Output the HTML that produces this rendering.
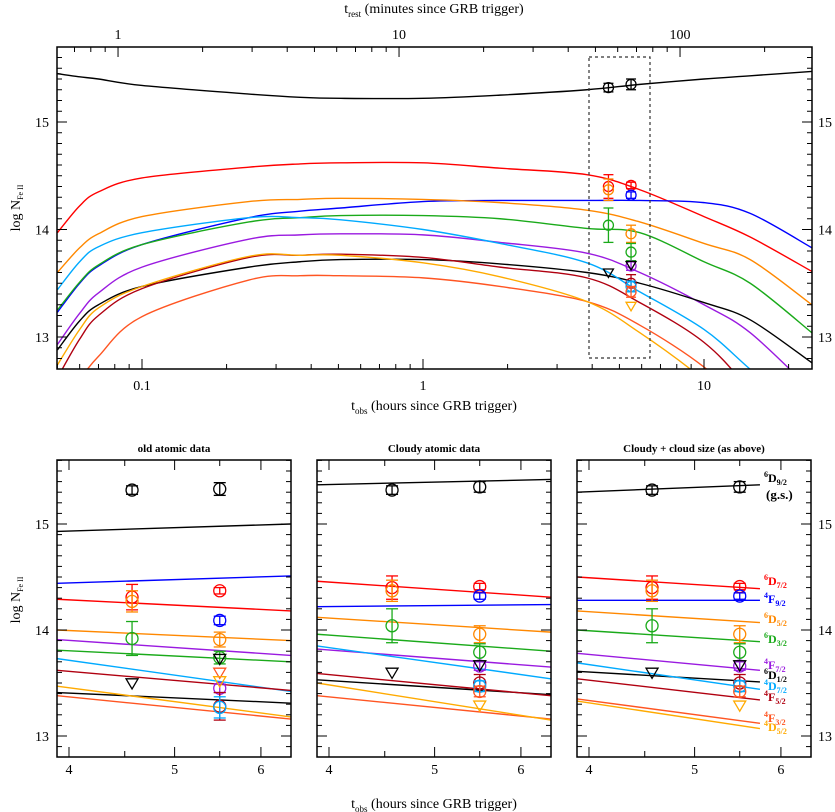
<!DOCTYPE html>
<html><head><meta charset="utf-8"><style>
body{margin:0;background:#fff}
svg{display:block;font-family:"Liberation Serif",serif}
</style></head><body>
<svg id="fig" width="835" height="812" viewBox="0 0 835 812" xmlns="http://www.w3.org/2000/svg">
<defs>
<clipPath id="ctop"><rect x="57" y="47" width="755" height="322"/></clipPath>
<clipPath id="cp0"><rect x="57" y="460" width="234" height="297"/></clipPath>
<clipPath id="cp1"><rect x="317" y="460" width="234" height="297"/></clipPath>
<clipPath id="cp2"><rect x="577" y="460" width="234" height="297"/></clipPath>
</defs>
<text x="434" y="13" text-anchor="middle" font-size="14">t<tspan font-size="9" dy="4">rest</tspan><tspan dy="-4"> (minutes since GRB trigger)</tspan></text>
<text x="434" y="410" text-anchor="middle" font-size="14">t<tspan font-size="9" dy="4">obs</tspan><tspan dy="-4"> (hours since GRB trigger)</tspan></text>
<text x="434" y="808" text-anchor="middle" font-size="14">t<tspan font-size="9" dy="4">obs</tspan><tspan dy="-4"> (hours since GRB trigger)</tspan></text>
<text transform="translate(20,208) rotate(-90)" text-anchor="middle" font-size="14">log N<tspan font-size="8" dy="3">Fe II</tspan></text>
<text transform="translate(20,600) rotate(-90)" text-anchor="middle" font-size="14">log N<tspan font-size="8" dy="3">Fe II</tspan></text>
<text x="174" y="452" text-anchor="middle" font-size="11" font-weight="bold">old atomic data</text>
<text x="434" y="452" text-anchor="middle" font-size="11" font-weight="bold">Cloudy atomic data</text>
<text x="694" y="452" text-anchor="middle" font-size="11" font-weight="bold">Cloudy + cloud size (as above)</text>
<g id="g"></g>
</svg>
<script>
// ---- data ----
var species = ["6D9/2","6D7/2","4F9/2","6D5/2","6D3/2","4F7/2","6D1/2","4D7/2","4F5/2","4F3/2","4D5/2"];
var colors = ["#000000","#ff0000","#0000ff","#ff8800","#1aaa1a","#9a1ae0","#000000","#00aaff","#b00010","#ff5522","#ffaa00"];
var topT = [0.05,0.06,0.07,0.1,0.24,0.365,0.51,1,1.88,3.83,5.91,10,14.6,24.2];
var top_6D92 = [15.45,15.42,15.40,15.34,15.26,15.23,15.22,15.22,15.25,15.30,15.35,15.40,15.43,15.47];
var top_6D72 = [13.97,14.22,14.35,14.48,14.58,14.61,14.62,14.62,14.57,14.51,14.37,14.12,13.93,13.61];
var top_4F92 = [13.23,13.50,13.66,13.86,14.11,14.17,14.20,14.26,14.27,14.27,14.27,14.25,14.15,13.83];
var top_6D52 = [13.60,13.83,13.96,14.12,14.26,14.28,14.29,14.28,14.25,14.18,14.07,13.87,13.72,13.30];
var top_6D32 = [13.25,13.51,13.67,13.86,14.07,14.11,14.13,14.13,14.10,14.01,13.97,13.70,13.50,13.04];
var top_4F72 = [12.93,13.22,13.41,13.65,13.91,13.95,13.96,13.95,13.88,13.78,13.60,13.30,13.04,12.5];
var top_6D12 = [12.88,13.15,13.30,13.47,13.65,13.70,13.72,13.72,13.68,13.60,13.50,13.32,13.16,12.76];
var top_4D72 = [13.44,13.70,13.84,13.97,14.11,14.11,14.09,14.00,13.87,13.69,13.42,13.07,12.70,12.2];
var top_4F52 = [12.62,12.98,13.20,13.45,13.74,13.76,13.77,13.74,13.65,13.55,13.32,12.95,12.5,11.8];
var top_4F32 = [12.3,12.60,12.82,13.19,13.53,13.57,13.57,13.55,13.47,13.33,13.11,12.72,12.3,11.7];
var top_4D52 = [12.74,13.07,13.27,13.47,13.75,13.76,13.76,13.69,13.56,13.33,13.04,12.6,12.2,11.5];
var topCurves = [top_6D92,top_6D72,top_4F92,top_6D52,top_6D32,top_4F72,top_6D12,top_4D72,top_4F52,top_4F32,top_4D52];
// bottom panel model lines: [value at left t, value at right t]
var lineT0 = [3.9,6.39]; var lineT1 = [3.9,6.39]; var lineT2 = [3.9,5.74];
var lines0 = [[14.93,15.00],[14.29,14.18],[14.44,14.51],[14.00,13.90],[13.81,13.70],[13.91,13.76],[13.41,13.31],[13.73,13.42],[13.62,13.43],[13.38,13.16],[13.47,13.18]];
var lines1 = [[15.37,15.42],[14.46,14.31],[14.22,14.24],[14.12,13.98],[13.96,13.80],[13.82,13.65],[13.53,13.39],[13.85,13.54],[13.59,13.38],[13.38,13.16],[13.50,13.15]];
var lines2 = [[15.30,15.37],[14.50,14.39],[14.28,14.28],[14.18,14.07],[14.00,13.89],[13.78,13.62],[13.61,13.51],[13.69,13.44],[13.54,13.34],[13.35,13.12],[13.33,13.07]];
// observations: [species index, t, logN, error (0 = upper limit)]
var obsOld = [[0,4.57,15.32,0.04],[0,5.5,15.33,0.06],[1,4.57,14.31,0.12],[1,5.5,14.37,0.03],[3,4.57,14.27,0.10],[3,5.5,13.91,0.07],[2,5.5,14.09,0.04],[4,4.57,13.92,0.16],[4,5.5,13.74,0.06],[5,5.5,13.45,0.04],[6,4.57,13.50,0],[6,5.5,13.73,0],[8,5.5,13.28,0.13],[7,5.5,13.27,0.10],[9,5.5,13.60,0],[10,5.5,13.52,0]];
var obsNew = [[0,4.57,15.32,0.04],[0,5.5,15.35,0.05],[1,4.57,14.40,0.11],[1,5.5,14.41,0.03],[3,4.57,14.37,0.10],[3,5.5,13.96,0.08],[2,5.5,14.32,0.03],[4,4.57,14.04,0.16],[4,5.5,13.79,0.08],[5,5.5,13.66,0.04],[6,4.57,13.60,0],[6,5.5,13.67,0],[8,5.5,13.50,0.08],[7,5.5,13.47,0.05],[9,5.5,13.42,0.05],[10,5.5,13.29,0]];
var topTicksY = [13,14,15];
var botTicksX = [4,5,6];

var NS="http://www.w3.org/2000/svg", G=document.getElementById('g');
function mk(tag,at,parent){var e=document.createElementNS(NS,tag);for(var k in at)e.setAttribute(k,at[k]);(parent||G).appendChild(e);return e;}
function L(x1,y1,x2,y2,sw,par){return mk('line',{x1:x1,y1:y1,x2:x2,y2:y2,stroke:'#000','stroke-width':sw||1},par);}
function lg(v){return Math.log(v)/Math.LN10;}

// ---- top panel ----
var TX=function(t){return 423+281*lg(t);}, TY=function(v){return 122-(v-15)*107.5;};
var topG=mk('g',{'clip-path':'url(#ctop)'});


function smooth(pts){var d='M'+pts[0][0]+','+pts[0][1];for(var i=0;i<pts.length-1;i++){var p0=pts[i-1]||pts[i],p1=pts[i],p2=pts[i+1],p3=pts[i+2]||p2;
d+=' C'+(p1[0]+(p2[0]-p0[0])/6)+','+(p1[1]+(p2[1]-p0[1])/6)+' '+(p2[0]-(p3[0]-p1[0])/6)+','+(p2[1]-(p3[1]-p1[1])/6)+' '+p2[0]+','+p2[1];}return d;}
topCurves.forEach(function(c,i){var pts=c.map(function(v,j){return [TX(topT[j]),TY(v)];});
var p=mk('path',{d:smooth(pts),fill:'none',stroke:colors[i],'stroke-width':1.4},topG);

});
var box=mk('rect',{x:589,y:57,width:61,height:301,fill:'none',stroke:'#333','stroke-width':1.2,'stroke-dasharray':'3,3'});



function marker(par,o,X,Y,r,cap,nm){var c=colors[o[0]],x=X(o[1]),y=Y(o[2]);var g=mk('g',{},par);


if(o[3]>0){var y1=Y(o[2]+o[3]),y2=Y(o[2]-o[3]);
mk('line',{x1:x,y1:y1,x2:x,y2:y2,stroke:c,'stroke-width':1.3},g);
mk('line',{x1:x-cap,y1:y1,x2:x+cap,y2:y1,stroke:c,'stroke-width':1.3},g);
mk('line',{x1:x-cap,y1:y2,x2:x+cap,y2:y2,stroke:c,'stroke-width':1.3},g);
mk('circle',{cx:x,cy:y,r:r,fill:'none',stroke:c,'stroke-width':1.3},g);}
else{mk('path',{d:'M'+(x-r)+','+(y-r*0.7)+' L'+(x+r)+','+(y-r*0.7)+' L'+x+','+(y+r)+' Z',fill:'none',stroke:c,'stroke-width':1.3},g);}}
obsNew.forEach(function(o,i){marker(G,o,TX,TY,5,5,'top-obs-'+i);});

// top frame & ticks
var fr=mk('rect',{x:57,y:47,width:755,height:322,fill:'none',stroke:'#000','stroke-width':1.5});


for(var d=-2;d<=1;d++)for(var m=1;m<10;m++){var t=m*Math.pow(10,d),x=TX(t);if(x<57||x>812)continue;var len=m==1?10:5;L(x,369,x,369-len);
if(m==1){var tl=mk('text',{x:x,y:390,'text-anchor':'middle','font-size':14});tl.textContent=t<1?t.toFixed(1):String(t);

}}
function XR(tm){return TX(tm*4.93/60);}
for(var d=-1;d<=2;d++)for(var m=1;m<10;m++){var tm=m*Math.pow(10,d),x=XR(tm);if(x<57||x>812)continue;L(x,47,x,47+(m==1?10:5));
if(m==1){var tl=mk('text',{x:x,y:39,'text-anchor':'middle','font-size':14});tl.textContent=String(tm);

}}
for(var k=127;k<=157;k++){var v=k/10,y=TY(v);if(y<47||y>369)continue;var len=(k%10==0)?10:5;L(57,y,57+len,y);L(812,y,812-len,y);}
topTicksY.forEach(function(v){var a=mk('text',{x:42,y:TY(v)+5,'text-anchor':'middle','font-size':14});a.textContent=v;


var b=mk('text',{x:825,y:TY(v)+5,'text-anchor':'middle','font-size':14});b.textContent=v;

});

// ---- bottom panels ----
var panels=[{off:0,lines:lines0,lt:lineT0,obs:obsOld},{off:260,lines:lines1,lt:lineT1,obs:obsNew},{off:520,lines:lines2,lt:lineT2,obs:obsNew}];
var BY=function(v){return 524-(v-15)*106;};
panels.forEach(function(P,pi){var X=function(t){return 57+P.off+1090*(lg(t)-lg(3.9));};
var pg=mk('g',{'clip-path':'url(#cp'+pi+')'});


P.lines.forEach(function(l,i){var ln=mk('line',{x1:X(P.lt[0]),y1:BY(l[0]),x2:X(P.lt[1]),y2:BY(l[1]),stroke:colors[i],'stroke-width':1.4},pg);

});
P.obs.forEach(function(o,i){marker(pg,o,X,BY,6,6,'panel-'+pi+'-obs-'+i);});
var x0=57+P.off;var f=mk('rect',{x:x0,y:460,width:234,height:297,fill:'none',stroke:'#000','stroke-width':1.5});


for(var k=129;k<=156;k++){var y=BY(k/10);var len=(k%10==0)?10:5;L(x0,y,x0+len,y);L(x0+234,y,x0+234-len,y);}
for(var t=3.9;t<=6.4;t+=0.1){var tt=Math.round(t*10)/10;var x=X(tt);if(x<x0+1||x>x0+233)continue;var maj=(tt%1===0);var len=maj?10:(Math.round(tt*10)%5==0?6:0);if(len){L(x,757,x,757-len);L(x,460,x,460+len);}}
botTicksX.forEach(function(v){var a=mk('text',{x:X(v),y:774,'text-anchor':'middle','font-size':14});a.textContent=v;

});});
[13,14,15].forEach(function(v){var a=mk('text',{x:42,y:BY(v)+5,'text-anchor':'middle','font-size':14});a.textContent=v;


var b=mk('text',{x:825,y:BY(v)+5,'text-anchor':'middle','font-size':14});b.textContent=v;

});
// species labels
var labY=[482,585,603,623,643,669,679,690,701,722,731];
species.forEach(function(s,i){var t=mk('text',{x:764,y:labY[i],'font-size':12,'font-weight':'bold',fill:colors[i]});


var a=mk('tspan',{'font-size':8,dy:-5},t);a.textContent=s[0];
var b=mk('tspan',{dy:5},t);b.textContent=s[1];
var c=mk('tspan',{'font-size':8,dy:3},t);c.textContent=s.slice(2);});
var gs=mk('text',{x:766,y:499,'font-size':13,'font-weight':'bold'});gs.textContent='(g.s.)';


</script>
</body></html>
